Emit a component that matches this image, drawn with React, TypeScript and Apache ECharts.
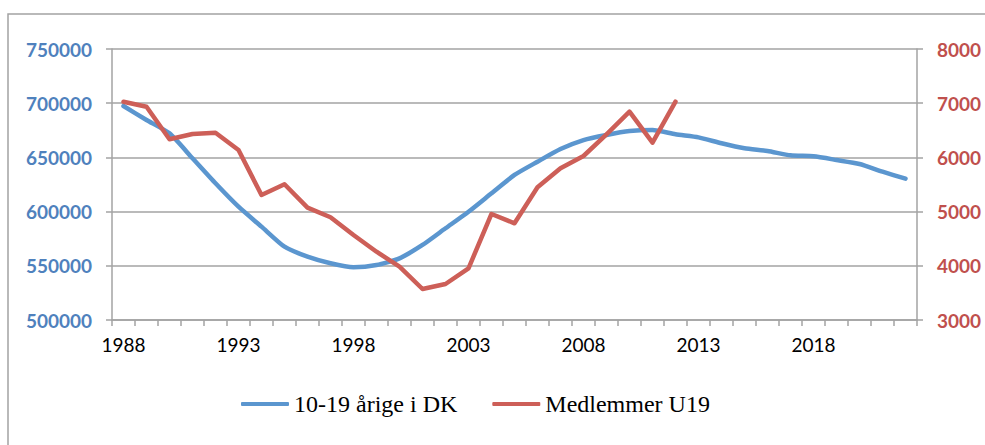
import React, { useEffect, useRef } from "react";
import * as echarts from "echarts";

const years: string[] = [];
for (let y = 1988; y <= 2022; y++) years.push(String(y));

const youthDK: number[] = [
  697400, 684500, 672200, 649200, 626100, 604500, 586100, 567600, 558400, 552300,
  548600, 550700, 556900, 569200, 584600, 599900, 616900, 633800, 646000, 657700,
  666000, 670700, 674300, 675300, 671300, 668500, 663000, 658400, 655900, 651900,
  651000, 647600, 643900, 636800, 630400,
];

const membersU19: (number | null)[] = [
  7028, 6935, 6334, 6432, 6456, 6136, 5306, 5504, 5072, 4895,
  4568, 4260, 3984, 3572, 3664, 3954, 4956, 4784, 5448, 5799,
  6026, 6426, 6843, 6271, 7028,
];

const seriesNames = ["10-19 årige i DK", "Medlemmer U19"];

export default function App() {
  const ref = useRef<HTMLDivElement>(null);
  useEffect(() => {
    if (!ref.current) return;
    const chart = echarts.init(ref.current, null, { renderer: "svg" });
    const gray = "#a3a3a3";
    const blue = "#5b96cf";
    const red = "#cd5f58";
    const plain = (v: number) => String(v);
    chart.setOption({
      animation: false,
      backgroundColor: "#ffffff",
      graphic: [
        {
          type: "rect",
          shape: { x: 8, y: 14, width: 1000, height: 500 },
          style: { fill: "none", stroke: gray, lineWidth: 1.5 },
          silent: true,
        },
      ],
      grid: { left: 112, right: 68, top: 49, bottom: 125 },
      legend: {
        left: 236,
        top: 387,
        itemWidth: 48,
        itemHeight: 4,
        itemGap: 35,
        icon: "roundRect",
        textStyle: { fontFamily: "Liberation Serif", fontSize: 24, color: "#000" },
        data: seriesNames,
      },
      xAxis: {
        type: "category",
        data: years,
        boundaryGap: true,
        axisLine: { lineStyle: { color: gray, width: 1.5 } },
        axisTick: { show: true, interval: 0, length: 6, lineStyle: { color: gray, width: 1.5 } },
        axisLabel: {
          interval: 4,
          margin: 15,
          fontFamily: "Lato",
          fontSize: 19,
          color: "#000",
        },
        splitLine: { show: false },
      },
      yAxis: [
        {
          type: "value",
          min: 500000,
          max: 750000,
          interval: 50000,
          axisLine: { show: true, lineStyle: { color: gray, width: 1.5 } },
          axisTick: { show: true, length: 6, lineStyle: { color: gray, width: 1.5 } },
          axisLabel: {
            margin: 20,
            fontFamily: "Lato",
            fontWeight: "bold",
            fontSize: 19,
            color: "#4f81bd",
            formatter: plain,
          },
          splitLine: { show: true, lineStyle: { color: gray, width: 1.5 } },
        },
        {
          type: "value",
          min: 3000,
          max: 8000,
          interval: 1000,
          position: "right",
          axisLine: { show: true, lineStyle: { color: gray, width: 1.5 } },
          axisTick: { show: true, length: 6, lineStyle: { color: gray, width: 1.5 } },
          axisLabel: {
            margin: 20,
            fontFamily: "Lato",
            fontWeight: "bold",
            fontSize: 19,
            color: "#c0504d",
            formatter: plain,
          },
          splitLine: { show: false },
        },
      ],
      series: [
        {
          name: seriesNames[0],
          type: "line",
          yAxisIndex: 0,
          data: youthDK,
          showSymbol: false,
          symbol: "none",
          smooth: 0.2,
          lineStyle: { color: blue, width: 4.5, cap: "round", join: "round" },
          itemStyle: { color: blue },
        },
        {
          name: seriesNames[1],
          type: "line",
          yAxisIndex: 1,
          data: membersU19,
          showSymbol: false,
          symbol: "none",
          lineStyle: { color: red, width: 4.5, cap: "round", join: "round" },
          itemStyle: { color: red },
        },
      ],
    });
    return () => chart.dispose();
  }, []);
  return (
    <div
      ref={ref}
      style={{ position: "fixed", left: 0, top: 0, width: 985, height: 445, background: "#fff" }}
    />
  );
}
